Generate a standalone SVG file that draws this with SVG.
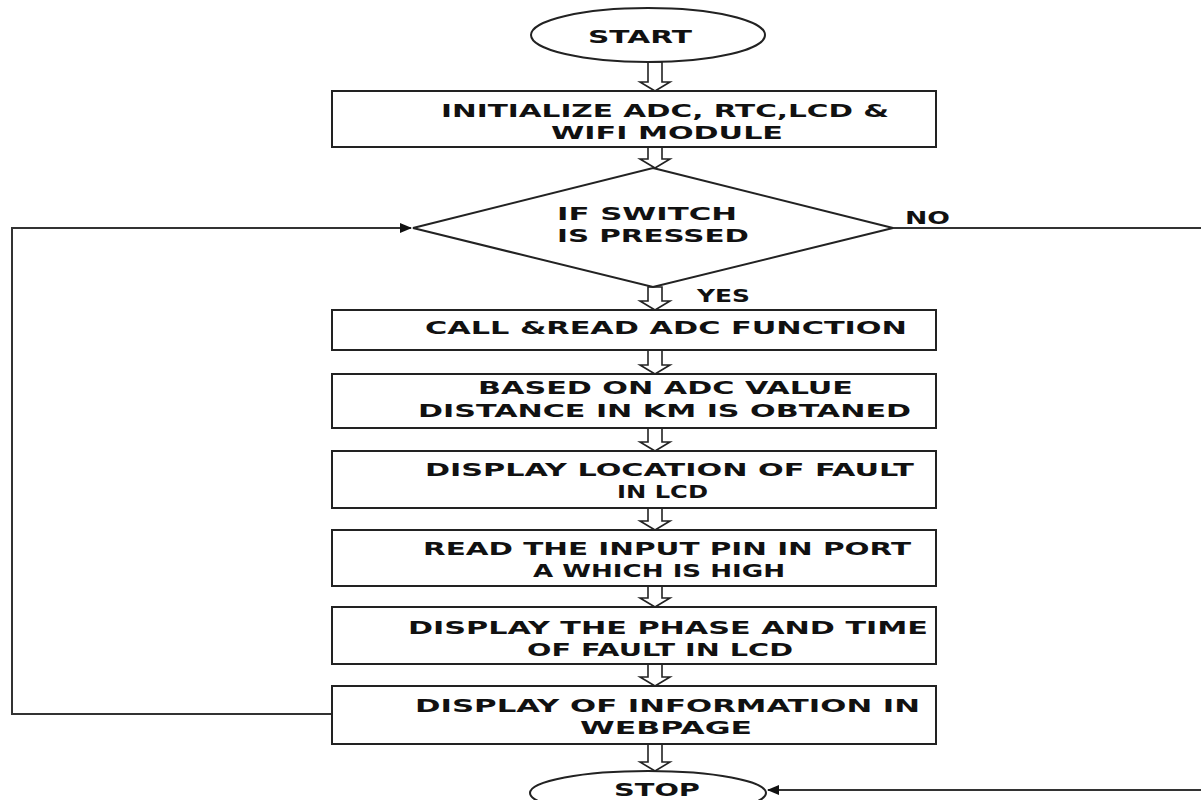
<svg xmlns="http://www.w3.org/2000/svg" width="1201" height="800" viewBox="0 0 1201 800">
<style>
.shape{fill:#fff;stroke:#222;stroke-width:2}
.blk{fill:#fff;stroke:#222;stroke-width:1.6;stroke-linejoin:miter}
.conn{fill:none;stroke:#333;stroke-width:2}
text{font-family:"DejaVu Sans","Liberation Sans",sans-serif;font-weight:bold;font-size:17px;fill:#111;text-anchor:start}
</style>
<defs>
<marker id="ah" markerWidth="12" markerHeight="10" refX="11" refY="5" orient="auto" markerUnits="userSpaceOnUse">
<path d="M0,0 L12,5 L0,10 Z" fill="#111"/>
</marker>
<path id="darr" d="M-7,0 V-9 M7,0 V-9 M-7,-9 H-14 L0,0 L14,-9 H7" />
</defs>
<rect width="1201" height="800" fill="#fff"/>

<g id="connectors">
<path class="conn" d="M332,714 H12 V228 H411" marker-end="url(#ah)"/>
<path class="conn" d="M893,228 H1205 V790 H768" marker-end="url(#ah)"/>
<g id="blockarrows">
<path class="blk" d="M648,62 V82 H640 L655,91 L670,82 H662 V62 Z"/>
<path class="blk" d="M648,147 V159 H640 L655,168 L670,159 H662 V147 Z"/>
<path class="blk" d="M648,287 V301 H640 L655,310 L670,301 H662 V287 Z"/>
<path class="blk" d="M648,350 V365 H640 L655,374 L670,365 H662 V350 Z"/>
<path class="blk" d="M648,428 V442 H640 L655,451 L670,442 H662 V428 Z"/>
<path class="blk" d="M648,508 V521 H640 L655,530 L670,521 H662 V508 Z"/>
<path class="blk" d="M648,586 V598 H640 L655,607 L670,598 H662 V586 Z"/>
<path class="blk" d="M648,664 V677 H640 L655,686 L670,677 H662 V664 Z"/>
<path class="blk" d="M648,744 V762 H640 L655,771 L670,762 H662 V744 Z"/>
</g>
</g>

<g id="start">
<ellipse class="shape" cx="648" cy="35" rx="117" ry="27"/>
<text x="588" y="43" textLength="104" lengthAdjust="spacingAndGlyphs">START</text>
</g>

<g id="init">
<rect class="shape" x="332" y="91" width="604" height="56"/>
<text x="441" y="117" textLength="448" lengthAdjust="spacingAndGlyphs">INITIALIZE ADC, RTC,LCD &amp;</text>
<text x="551" y="139" textLength="232" lengthAdjust="spacingAndGlyphs">WIFI MODULE</text>
</g>

<g id="decision">
<polygon class="shape" points="653,168 893,228 653,287 413,228"/>
<text x="557" y="220" textLength="180" lengthAdjust="spacingAndGlyphs">IF SWITCH</text>
<text x="557" y="242" textLength="192" lengthAdjust="spacingAndGlyphs">IS PRESSED</text>
</g>
<g id="label-no"><text x="905" y="224" textLength="45" lengthAdjust="spacingAndGlyphs">NO</text></g>
<g id="label-yes"><text x="697" y="302" textLength="53" lengthAdjust="spacingAndGlyphs">YES</text></g>

<g id="callread">
<rect class="shape" x="332" y="310" width="604" height="40"/>
<text x="425" y="334" textLength="482" lengthAdjust="spacingAndGlyphs">CALL &amp;READ ADC FUNCTION</text>
</g>

<g id="based">
<rect class="shape" x="332" y="374" width="604" height="54"/>
<text x="478" y="394" textLength="375" lengthAdjust="spacingAndGlyphs">BASED ON ADC VALUE</text>
<text x="418" y="417" textLength="493" lengthAdjust="spacingAndGlyphs">DISTANCE IN KM IS OBTANED</text>
</g>

<g id="displayloc">
<rect class="shape" x="332" y="451" width="604" height="57"/>
<text x="425" y="476" textLength="489" lengthAdjust="spacingAndGlyphs">DISPLAY LOCATION OF FAULT</text>
<text x="617" y="498" textLength="91" lengthAdjust="spacingAndGlyphs">IN LCD</text>
</g>

<g id="readpin">
<rect class="shape" x="332" y="530" width="604" height="56"/>
<text x="423" y="555" textLength="488" lengthAdjust="spacingAndGlyphs">READ THE INPUT PIN IN PORT</text>
<text x="533" y="577" textLength="252" lengthAdjust="spacingAndGlyphs">A WHICH IS HIGH</text>
</g>

<g id="displayphase">
<rect class="shape" x="332" y="607" width="604" height="57"/>
<text x="408" y="634" textLength="520" lengthAdjust="spacingAndGlyphs">DISPLAY THE PHASE AND TIME</text>
<text x="527" y="656" textLength="266" lengthAdjust="spacingAndGlyphs">OF FAULT IN LCD</text>
</g>

<g id="webpage">
<rect class="shape" x="332" y="686" width="604" height="58"/>
<text x="415" y="712" textLength="505" lengthAdjust="spacingAndGlyphs">DISPLAY OF INFORMATION IN</text>
<text x="580" y="734" textLength="172" lengthAdjust="spacingAndGlyphs">WEBPAGE</text>
</g>

<g id="stop">
<ellipse class="shape" cx="648" cy="793" rx="118" ry="22"/>
<text x="614" y="796" textLength="86" lengthAdjust="spacingAndGlyphs">STOP</text>
</g>
</svg>
